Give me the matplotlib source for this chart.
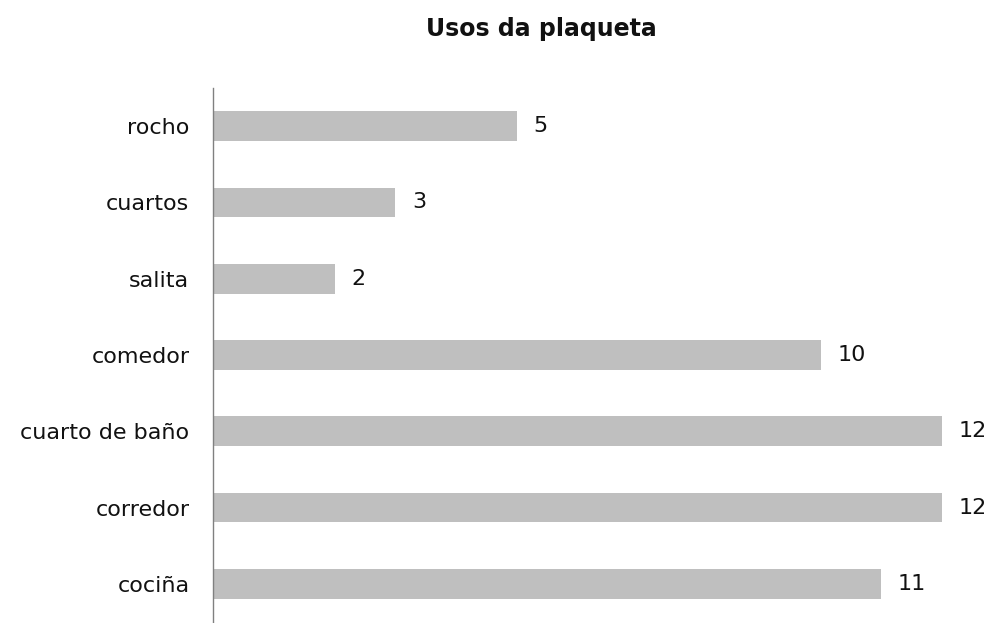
import matplotlib
matplotlib.use("Agg")
import matplotlib.pyplot as plt

categories = ["rocho", "cuartos", "salita", "comedor", "cuarto de baño", "corredor", "cociña"]
values = [5, 3, 2, 10, 12, 12, 11]
title = "Usos da plaqueta"

plt.rcParams['font.family'] = ['DejaVu Sans']
fig = plt.figure(figsize=(9.93, 6.23), dpi=100)
ax = fig.add_axes([213/993, 1/623, (993-213)/993, (622-88)/623])

ypos = list(range(len(categories)))[::-1]
ax.barh(ypos, values, height=0.39, color="#BFBFBF")
for y, v in zip(ypos, values):
    ax.annotate(str(v), (v, y), xytext=(12, 0), textcoords="offset points",
                va="center", ha="left", fontsize=16, color="#111111")

ax.set_xlim(0, 780/60.75)
ax.set_ylim(-0.5, len(categories)-0.5)
ax.set_yticks(ypos)
ax.set_yticklabels(categories, fontsize=16, color="#111111")
ax.tick_params(axis='y', length=0, pad=17)
ax.set_xticks([])
for s in ["top", "right", "bottom"]:
    ax.spines[s].set_visible(False)
ax.spines["left"].set_color("#808080")
ax.spines["left"].set_linewidth(1)

fig.text(0.545, 1-29/623, title, ha="center", va="center", fontsize=17, fontweight="bold", color="#111111")
fig.savefig("out.png", dpi=100)
